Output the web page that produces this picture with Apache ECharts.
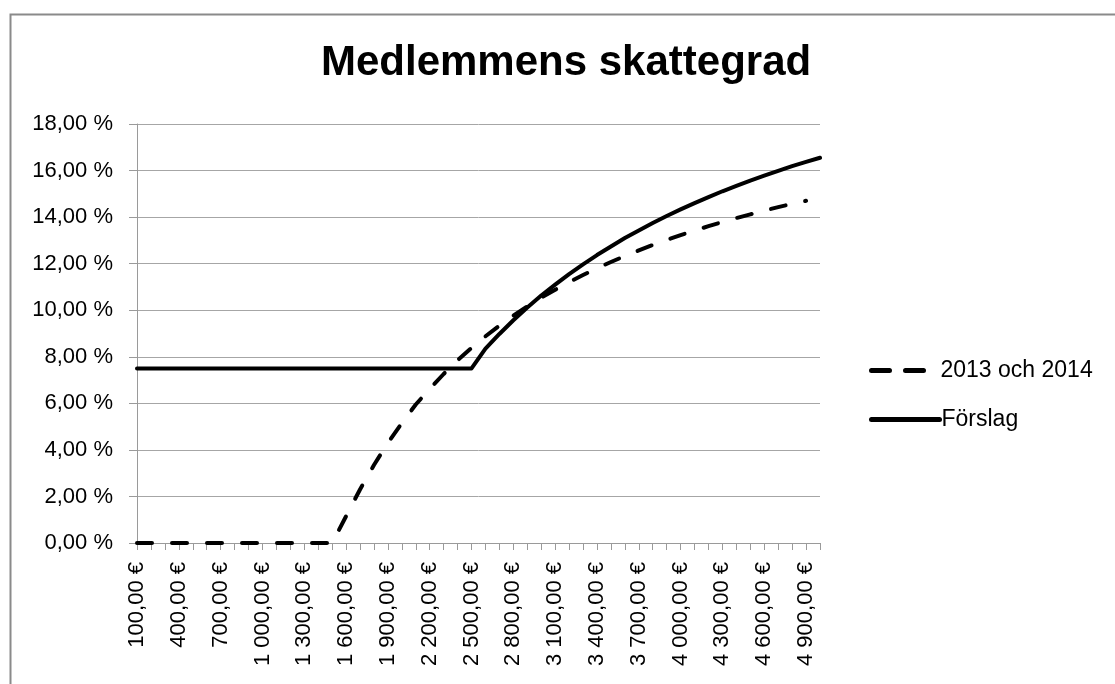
<!DOCTYPE html>
<html>
<head>
<meta charset="utf-8">
<script src="https://cdn.jsdelivr.net/npm/echarts@6/dist/echarts.min.js"></script>
<style>
html,body{margin:0;padding:0;background:#fff;}
#chart{width:1115px;height:684px;}
</style>
</head>
<body>
<div id="chart"></div>
<script>
var titleText = 'Medlemmens skattegrad';
var categories = [100,200,300,400,500,600,700,800,900,1000,1100,1200,1300,1400,1500,1600,1700,1800,1900,2000,2100,2200,2300,2400,2500,2600,2700,2800,2900,3000,3100,3200,3300,3400,3500,3600,3700,3800,3900,4000,4100,4200,4300,4400,4500,4600,4700,4800,4900,5000];
var seriesNames = ['2013 och 2014', 'Förslag'];
var current = [0,0,0,0,0,0,0,0,0,0,0,0,0,0,0,1.15,2.3,3.35,4.3,5.15,5.95,6.62,7.26,7.85,8.38,8.88,9.34,9.77,10.17,10.54,10.88,11.21,11.51,11.8,12.07,12.33,12.57,12.8,13.02,13.23,13.42,13.61,13.79,13.96,14.12,14.28,14.43,14.57,14.7,null];
var proposal = [7.5,7.5,7.5,7.5,7.5,7.5,7.5,7.5,7.5,7.5,7.5,7.5,7.5,7.5,7.5,7.5,7.5,7.5,7.5,7.5,7.5,7.5,7.5,7.5,7.5,8.35,8.98,9.57,10.12,10.63,11.1,11.55,11.97,12.37,12.74,13.1,13.43,13.75,14.05,14.33,14.6,14.86,15.11,15.34,15.57,15.78,15.99,16.19,16.37,16.55];
var yTicks = [0,2,4,6,8,10,12,14,16,18];

function fmtEuro(v){
  var n = Number(v);
  var s = String(n);
  if (n >= 1000) { s = s.slice(0, s.length-3) + ' ' + s.slice(s.length-3); }
  return s + ',00 €';
}
function fmtPct(v){ return v.toFixed(2).replace('.', ',') + ' %'; }

var FONT = 'Liberation Sans';
var chart = echarts.init(document.getElementById('chart'), null, {renderer:'canvas'});
chart.setOption({
  backgroundColor: '#fff',
  animation: false,
  title: {
    text: titleText,
    left: 316, top: 37,
    textStyle: {fontFamily: FONT, fontSize: 42, fontWeight: 'bold', color: '#000'}
  },
  graphic: [{
    type: 'rect', left: 8, top: 12, silent: true,
    shape: {x:0, y:0, width: 1200, height: 800},
    style: {fill: 'none', stroke: '#8a8a8a', lineWidth: 2}
  }],
  legend: [{
    data: [seriesNames[0]], orient: 'vertical', left: 864, top: 354,
    itemWidth: 54, itemHeight: 14, itemGap: 0,
    itemStyle: {opacity: 0},
    lineStyle: {width: 5, color: '#000', type: [18, 16], cap: 'round'},
    textStyle: {fontFamily: FONT, fontSize: 23, color: '#000', padding: [0,0,0,10]}
  },{
    data: [seriesNames[1]], orient: 'vertical', left: 864, top: 403,
    itemWidth: 68, itemHeight: 14, itemGap: 0,
    itemStyle: {opacity: 0},
    lineStyle: {width: 5, color: '#000', type: 'solid', cap: 'round'},
    textStyle: {fontFamily: FONT, fontSize: 23, color: '#000', padding: [0,0,0,-3]}
  }],
  grid: {left: 137, right: 295, top: 124, bottom: 141, containLabel: false},
  xAxis: {
    type: 'category', data: categories, boundaryGap: false,
    axisLine: {lineStyle: {color: '#9a9a9a', width: 1}},
    axisTick: {show: true, interval: 0, length: 7, inside: false, lineStyle: {color: '#9a9a9a'}},
    axisLabel: {interval: 2, rotate: 90, margin: 19, formatter: fmtEuro,
      fontFamily: FONT, fontSize: 22, color: '#000'},
    splitLine: {show: false}
  },
  yAxis: {
    type: 'value', min: 0, max: 18, interval: 2,
    axisLine: {show: true, lineStyle: {color: '#9a9a9a', width: 1}},
    axisTick: {show: true, length: 8, lineStyle: {color: '#9a9a9a'}},
    axisLabel: {formatter: fmtPct, margin: 24, fontFamily: FONT, fontSize: 22, color: '#000'},
    splitLine: {show: true, lineStyle: {color: '#a6a6a6', width: 1}}
  },
  series: [{
    name: seriesNames[0], type: 'line', data: current, symbol: 'none', showSymbol: false,
    connectNulls: false,
    lineStyle: {color: '#000', width: 4, type: [15, 20], cap: 'round', join: 'round'},
    itemStyle: {color: '#000'}
  },{
    name: seriesNames[1], type: 'line', data: proposal, symbol: 'none', showSymbol: false,
    lineStyle: {color: '#000', width: 4, type: 'solid', cap: 'round', join: 'round'},
    itemStyle: {color: '#000'}
  }]
});
</script>
</body>
</html>
